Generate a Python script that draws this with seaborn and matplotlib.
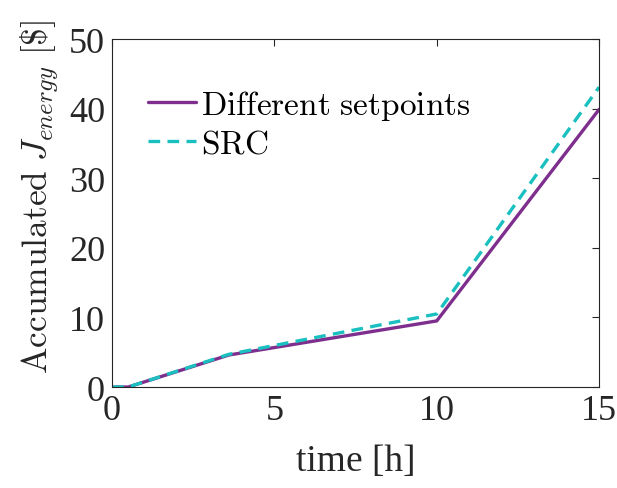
import matplotlib
matplotlib.use("Agg")
import matplotlib.pyplot as plt
import seaborn as sns
import pandas as pd

time_h = [0, 0.5, 3.6, 10, 15]
different_setpoints = [0, 0, 4.6, 9.5, 39.9]
src = [0, 0, 4.7, 10.5, 43.1]
series_names = ["Different setpoints", "SRC"]
legend_labels = [r"$\mathrm{Different\ setpoints}$", r"$\mathrm{SRC}$"]

sns.set_theme(style="white")
plt.rcParams['font.family'] = ['Liberation Serif', 'DejaVu Serif']
plt.rcParams['mathtext.fontset'] = 'cm'

df = pd.concat([
    pd.DataFrame({"time": time_h, "J": different_setpoints, "series": series_names[0]}),
    pd.DataFrame({"time": time_h, "J": src, "series": series_names[1]}),
])

fig = plt.figure(figsize=(6.17, 4.89), dpi=100)
ax = fig.add_axes([0.1815, 0.2065, 0.7895, 0.7115])
palette = {"Different setpoints": "#7E2F8E", "SRC": "#1ABFBF"}
dashes = {"Different setpoints": "", "SRC": (3.5, 2.2)}
sns.lineplot(data=df, x="time", y="J", hue="series", style="series",
             palette=palette, dashes=dashes, linewidth=2.4, ax=ax, sort=False)

ax.set_xlim(0, 15)
ax.set_ylim(0, 50)
ax.set_xticks([0, 5, 10, 15])
ax.set_yticks([0, 10, 20, 30, 40, 50])
ax.tick_params(direction='in', length=5, width=0.8, colors='#262626',
               labelsize=26, top=True, right=True, pad=5)
for s in ax.spines.values():
    s.set_color('#262626')
    s.set_linewidth(0.8)
ax.set_xlabel("time [h]", fontsize=27, color='#262626', labelpad=12)
ax.set_ylabel(r"$\mathrm{Accumulated}\ J_{energy}\ [\$]$", fontsize=25.5,
              color='#262626')
ax.yaxis.set_label_coords(-0.105, 0.55)

handles, _ = ax.get_legend_handles_labels()
leg = ax.legend(handles, legend_labels, loc='upper left', bbox_to_anchor=(0.047, 0.899),
                frameon=False, fontsize=24, handlelength=1.42, handletextpad=0.15,
                labelspacing=0.22, borderaxespad=0)
for t in leg.get_texts():
    t.set_color('#000000')

fig.savefig("out.png", dpi=100)
